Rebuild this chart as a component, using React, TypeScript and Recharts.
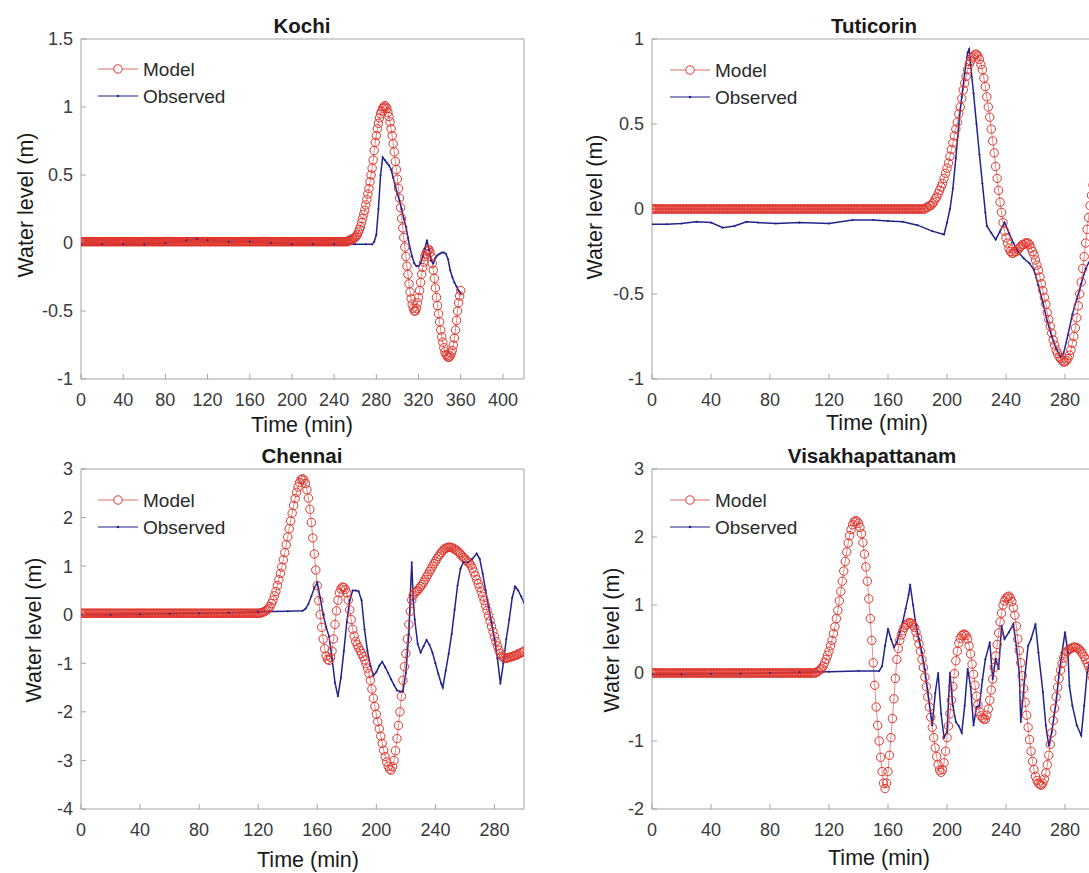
import React from "react";
import { LineChart, Line, XAxis, YAxis } from "recharts";

const FONT = "'Liberation Sans', Arial, Helvetica, sans-serif";

// model output is sampled every minute
const MODEL_STEP = 1;

const kochiModel = [
  0.01, 0.01, 0.01, 0.01, 0.01, 0.01, 0.01, 0.01, 0.01, 0.01, 0.01, 0.01, 0.01, 0.01, 0.01, 0.01, 0.01, 0.01, 0.01, 0.01,
  0.01, 0.01, 0.01, 0.01, 0.01, 0.01, 0.01, 0.01, 0.01, 0.01, 0.01, 0.01, 0.01, 0.01, 0.01, 0.01, 0.01, 0.01, 0.01, 0.01,
  0.01, 0.01, 0.01, 0.01, 0.01, 0.01, 0.01, 0.01, 0.01, 0.01, 0.01, 0.01, 0.01, 0.01, 0.01, 0.01, 0.01, 0.01, 0.01, 0.01,
  0.01, 0.01, 0.01, 0.01, 0.01, 0.01, 0.01, 0.01, 0.01, 0.01, 0.01, 0.01, 0.01, 0.01, 0.01, 0.01, 0.01, 0.01, 0.01, 0.01,
  0.01, 0.01, 0.01, 0.01, 0.01, 0.01, 0.01, 0.01, 0.01, 0.01, 0.01, 0.01, 0.01, 0.01, 0.01, 0.01, 0.01, 0.01, 0.01, 0.01,
  0.01, 0.01, 0.01, 0.01, 0.01, 0.01, 0.01, 0.01, 0.01, 0.01, 0.01, 0.01, 0.01, 0.01, 0.01, 0.01, 0.01, 0.01, 0.01, 0.01,
  0.01, 0.01, 0.01, 0.01, 0.01, 0.01, 0.01, 0.01, 0.01, 0.01, 0.01, 0.01, 0.01, 0.01, 0.01, 0.01, 0.01, 0.01, 0.01, 0.01,
  0.01, 0.01, 0.01, 0.01, 0.01, 0.01, 0.01, 0.01, 0.01, 0.01, 0.01, 0.01, 0.01, 0.01, 0.01, 0.01, 0.01, 0.01, 0.01, 0.01,
  0.01, 0.01, 0.01, 0.01, 0.01, 0.01, 0.01, 0.01, 0.01, 0.01, 0.01, 0.01, 0.01, 0.01, 0.01, 0.01, 0.01, 0.01, 0.01, 0.01,
  0.01, 0.01, 0.01, 0.01, 0.01, 0.01, 0.01, 0.01, 0.01, 0.01, 0.01, 0.01, 0.01, 0.01, 0.01, 0.01, 0.01, 0.01, 0.01, 0.01,
  0.01, 0.01, 0.01, 0.01, 0.01, 0.01, 0.01, 0.01, 0.01, 0.01, 0.01, 0.01, 0.01, 0.01, 0.01, 0.01, 0.01, 0.01, 0.01, 0.01,
  0.01, 0.01, 0.01, 0.01, 0.01, 0.01, 0.01, 0.01, 0.01, 0.01, 0.01, 0.01, 0.01, 0.01, 0.01, 0.01, 0.01, 0.01, 0.01, 0.01,
  0.01, 0.01, 0.01, 0.01, 0.01, 0.01, 0.01, 0.01, 0.01, 0.01, 0.01, 0.01,
  0.01, 0.01, 0.02, 0.02, 0.02, 0.03, 0.03, 0.04, 0.04, 0.05,
  0.06, 0.08, 0.1, 0.12, 0.15, 0.18, 0.21, 0.24, 0.28, 0.32,
  0.36, 0.4, 0.45, 0.5, 0.55, 0.61, 0.68, 0.74, 0.79, 0.84,
  0.88, 0.92, 0.95, 0.97, 0.99, 1.0, 1.01, 1.0, 0.99, 0.96,
  0.93, 0.89, 0.84, 0.79, 0.73, 0.67, 0.6, 0.54, 0.47, 0.4,
  0.33, 0.26, 0.18, 0.11, 0.04, -0.03, -0.1, -0.17, -0.23, -0.3,
  -0.36, -0.41, -0.45, -0.48, -0.5, -0.5, -0.48, -0.44, -0.4, -0.35,
  -0.29, -0.23, -0.18, -0.14, -0.1, -0.08, -0.06, -0.05, -0.05, -0.07,
  -0.1, -0.15, -0.2, -0.26, -0.33, -0.4, -0.46, -0.52, -0.58, -0.64,
  -0.69, -0.73, -0.77, -0.8, -0.82, -0.83, -0.84, -0.84, -0.83, -0.81,
  -0.79, -0.75, -0.7, -0.64, -0.57, -0.5, -0.44, -0.39, -0.35,
];
const kochiObsTime = [
  0, 20, 40, 60, 80, 100, 110, 120, 140, 160, 180, 200, 220, 240, 260, 270, 276, 278, 280, 282,
  284, 286, 288, 290, 292, 294, 296, 298, 300, 302, 304, 306, 308, 310, 312, 314, 316, 318, 320, 322,
  324, 326, 328, 330, 332, 334, 336, 338, 340, 342, 344, 346, 348, 350, 352, 354, 356, 358, 360,
];
const kochiObsLevel = [
  -0.01, -0.01, -0.01, -0.01, 0, 0.02, 0.03, 0.02, 0.01, 0.01, 0, -0.01, -0.01, -0.01, -0.01, -0.01, -0.01, 0.01, 0.06, 0.25,
  0.5, 0.63, 0.61, 0.59, 0.57, 0.54, 0.48, 0.42, 0.36, 0.31, 0.25, 0.18, 0.12, 0.04, -0.04, -0.1, -0.15, -0.17, -0.17, -0.15,
  -0.1, -0.04, 0.02, -0.05, -0.13, -0.15, -0.11, -0.09, -0.08, -0.07, -0.07, -0.08, -0.12, -0.2, -0.25, -0.29, -0.32, -0.35, -0.37,
];

const tutiModel = [
  0, 0, 0, 0, 0, 0, 0, 0, 0, 0, 0, 0, 0, 0, 0, 0, 0, 0, 0, 0,
  0, 0, 0, 0, 0, 0, 0, 0, 0, 0, 0, 0, 0, 0, 0, 0, 0, 0, 0, 0,
  0, 0, 0, 0, 0, 0, 0, 0, 0, 0, 0, 0, 0, 0, 0, 0, 0, 0, 0, 0,
  0, 0, 0, 0, 0, 0, 0, 0, 0, 0, 0, 0, 0, 0, 0, 0, 0, 0, 0, 0,
  0, 0, 0, 0, 0, 0, 0, 0, 0, 0, 0, 0, 0, 0, 0, 0, 0, 0, 0, 0,
  0, 0, 0, 0, 0, 0, 0, 0, 0, 0, 0, 0, 0, 0, 0, 0, 0, 0, 0, 0,
  0, 0, 0, 0, 0, 0, 0, 0, 0, 0, 0, 0, 0, 0, 0, 0, 0, 0, 0, 0,
  0, 0, 0, 0, 0, 0, 0, 0, 0, 0, 0, 0, 0, 0, 0, 0, 0, 0, 0, 0,
  0, 0, 0, 0, 0, 0, 0, 0, 0, 0, 0, 0, 0, 0, 0, 0, 0, 0, 0, 0,
  0, 0, 0, 0, 0, 0,
  0.01, 0.01, 0.02, 0.02, 0.03, 0.04, 0.06, 0.07, 0.09, 0.11,
  0.13, 0.15, 0.18, 0.21, 0.24, 0.27, 0.31, 0.35, 0.39, 0.43,
  0.47, 0.51, 0.56, 0.6, 0.65, 0.7, 0.74, 0.78, 0.82, 0.85,
  0.87, 0.89, 0.9, 0.91, 0.91, 0.9, 0.88, 0.85, 0.82, 0.77,
  0.72, 0.66, 0.6, 0.54, 0.47, 0.4, 0.33, 0.25, 0.18, 0.11,
  0.04, -0.02, -0.08, -0.13, -0.17, -0.2, -0.23, -0.25, -0.26, -0.26,
  -0.25, -0.25, -0.24, -0.23, -0.22, -0.21, -0.21, -0.2, -0.2, -0.2,
  -0.21, -0.23, -0.25, -0.27, -0.3, -0.33, -0.36, -0.4, -0.44, -0.48,
  -0.52, -0.56, -0.61, -0.65, -0.69, -0.73, -0.77, -0.8, -0.83, -0.85,
  -0.87, -0.88, -0.89, -0.9, -0.9, -0.89, -0.88, -0.86, -0.83, -0.79,
  -0.75, -0.7, -0.64, -0.57, -0.5, -0.43, -0.35, -0.28, -0.2, -0.12,
  -0.05, 0.02, 0.08, 0.14, 0.2,
];
const tutiObsTime = [
  0, 10, 20, 30, 40, 48, 56, 64, 72, 84, 100, 120, 136, 150, 160, 170, 180, 190, 198, 200,
  202, 204, 206, 208, 210, 212, 214, 215, 216, 218, 220, 222, 224, 226, 227, 230, 233, 236, 239, 242,
  245, 248, 252, 256, 259, 262, 265, 268, 271, 274, 277, 279, 282, 285, 288, 291, 294, 297, 300,
];
const tutiObsLevel = [
  -0.09, -0.09, -0.085, -0.075, -0.08, -0.11, -0.1, -0.075, -0.08, -0.085, -0.08, -0.085, -0.065, -0.065, -0.07, -0.075, -0.095, -0.13, -0.15, -0.08,
  0, 0.12, 0.3, 0.5, 0.66, 0.8, 0.92, 0.94, 0.85, 0.68, 0.5, 0.32, 0.15, -0.02, -0.1, -0.14, -0.18, -0.13, -0.08, -0.14,
  -0.2, -0.25, -0.29, -0.32, -0.36, -0.45, -0.55, -0.66, -0.75, -0.82, -0.87, -0.85, -0.74, -0.62, -0.53, -0.44, -0.35, -0.3, -0.22,
];

const chennaiModel = [
  0.03, 0.03, 0.03, 0.03, 0.03, 0.03, 0.03, 0.03, 0.03, 0.03, 0.03, 0.03, 0.03, 0.03, 0.03, 0.03, 0.03, 0.03, 0.03, 0.03,
  0.03, 0.03, 0.03, 0.03, 0.03, 0.03, 0.03, 0.03, 0.03, 0.03, 0.03, 0.03, 0.03, 0.03, 0.03, 0.03, 0.03, 0.03, 0.03, 0.03,
  0.03, 0.03, 0.03, 0.03, 0.03, 0.03, 0.03, 0.03, 0.03, 0.03, 0.03, 0.03, 0.03, 0.03, 0.03, 0.03, 0.03, 0.03, 0.03, 0.03,
  0.03, 0.03, 0.03, 0.03, 0.03, 0.03, 0.03, 0.03, 0.03, 0.03, 0.03, 0.03, 0.03, 0.03, 0.03, 0.03, 0.03, 0.03, 0.03, 0.03,
  0.03, 0.03, 0.03, 0.03, 0.03, 0.03, 0.03, 0.03, 0.03, 0.03, 0.03, 0.03, 0.03, 0.03, 0.03, 0.03, 0.03, 0.03, 0.03, 0.03,
  0.03, 0.03, 0.03, 0.03, 0.03, 0.03, 0.03, 0.03, 0.03, 0.03, 0.03, 0.03, 0.03, 0.03, 0.03, 0.03, 0.03, 0.03, 0.03, 0.03,
  0.03, 0.03,
  0.04, 0.05, 0.06, 0.08, 0.1, 0.13, 0.17, 0.23, 0.3, 0.39,
  0.48, 0.6, 0.72, 0.85, 0.98, 1.13, 1.28, 1.44, 1.6, 1.77,
  1.93, 2.09, 2.25, 2.39, 2.52, 2.63, 2.72, 2.78, 2.8, 2.77,
  2.7, 2.57, 2.4, 2.17, 1.9, 1.58, 1.25, 0.92, 0.6, 0.29,
  0.0, -0.26, -0.5, -0.7, -0.85, -0.92, -0.94, -0.88, -0.75, -0.5,
  -0.2, 0.08, 0.3, 0.45, 0.53, 0.57, 0.56, 0.52, 0.45, 0.3,
  0.1, -0.1, -0.3, -0.44, -0.55, -0.62, -0.68, -0.74, -0.8, -0.86,
  -0.93, -1.01, -1.1, -1.21, -1.35, -1.53, -1.72, -1.89, -2.05, -2.2,
  -2.35, -2.5, -2.65, -2.79, -2.92, -3.03, -3.12, -3.18, -3.2, -3.13,
  -3.0, -2.8, -2.55, -2.28, -2.0, -1.68, -1.35, -1.07, -0.8, -0.5,
  -0.2, 0.07, 0.3, 0.4, 0.45, 0.48, 0.5, 0.54, 0.58, 0.62,
  0.67, 0.72, 0.78, 0.83, 0.89, 0.94, 1.0, 1.05, 1.1, 1.15,
  1.2, 1.24, 1.28, 1.32, 1.35, 1.37, 1.38, 1.39, 1.39, 1.38,
  1.37, 1.35, 1.33, 1.31, 1.28, 1.25, 1.21, 1.18, 1.15, 1.12,
  1.09, 1.06, 1.02, 0.96, 0.88, 0.8, 0.72, 0.64, 0.56, 0.47,
  0.38, 0.29, 0.19, 0.09, -0.02, -0.13, -0.24, -0.35, -0.45, -0.55,
  -0.64, -0.73, -0.8, -0.85, -0.88, -0.89, -0.9, -0.89, -0.88, -0.87,
  -0.86, -0.85, -0.84, -0.83, -0.81, -0.8, -0.78, -0.77, -0.75,
];
const chennaiObsTime = [
  0, 20, 40, 60, 80, 100, 120, 140, 150, 152, 154, 156, 158, 160, 162, 164, 166, 168, 170, 172,
  174, 176, 178, 180, 182, 184, 186, 188, 190, 192, 194, 196, 198, 200, 202, 204, 206, 208, 210, 212,
  214, 216, 218, 220, 222, 223, 224, 225, 226, 228, 230, 232, 234, 236, 238, 240, 242, 244, 245, 247,
  249, 251, 253, 255, 257, 259, 262, 265, 268, 270, 272, 274, 276, 278, 280, 282, 284, 286, 288, 290,
  292, 294, 296, 298, 300,
];
const chennaiObsLevel = [
  0, 0, 0.01, 0.02, 0.03, 0.04, 0.06, 0.07, 0.08, 0.12, 0.22, 0.38, 0.55, 0.66, 0.35, 0, -0.25, -0.45, -0.9, -1.4,
  -1.68, -1.3, -0.75, -0.15, 0.3, 0.5, 0.5, 0.48, 0.3, -0.3, -0.75, -1.05, -1.25, -1.18, -1.05, -0.97, -1.08, -1.2, -1.33, -1.45,
  -1.56, -1.58, -1.58, -1.2, -0.4, 0.4, 1.08, 0.3, -0.1, -0.6, -0.78, -0.65, -0.52, -0.62, -0.78, -1.0, -1.22, -1.42, -1.5, -1.15,
  -0.8, -0.4, 0.1, 0.6, 0.95, 1.08, 1.08, 1.15, 1.26, 1.15, 0.85, 0.5, 0.15, -0.15, -0.5, -0.9, -1.42, -1.0, -0.5, -0.1,
  0.35, 0.58, 0.5, 0.38, 0.25,
];

const visakModel = [
  0, 0, 0, 0, 0, 0, 0, 0, 0, 0, 0, 0, 0, 0, 0, 0, 0, 0, 0, 0,
  0, 0, 0, 0, 0, 0, 0, 0, 0, 0, 0, 0, 0, 0, 0, 0, 0, 0, 0, 0,
  0, 0, 0, 0, 0, 0, 0, 0, 0, 0, 0, 0, 0, 0, 0, 0, 0, 0, 0, 0,
  0, 0, 0, 0, 0, 0, 0, 0, 0, 0, 0, 0, 0, 0, 0, 0, 0, 0, 0, 0,
  0, 0, 0, 0, 0, 0, 0, 0, 0, 0, 0, 0, 0, 0, 0, 0, 0, 0, 0, 0,
  0, 0, 0, 0, 0, 0, 0, 0, 0, 0, 0, 0,
  0.02, 0.03, 0.05, 0.07, 0.1, 0.15, 0.2, 0.26, 0.32, 0.4,
  0.48, 0.58, 0.68, 0.8, 0.92, 1.06, 1.2, 1.35, 1.5, 1.64,
  1.78, 1.91, 2.02, 2.11, 2.18, 2.22, 2.24, 2.23, 2.2, 2.14,
  2.05, 1.92, 1.75, 1.56, 1.35, 1.09, 0.8, 0.48, 0.15, -0.18,
  -0.5, -0.77, -1.0, -1.24, -1.45, -1.62, -1.7, -1.62, -1.45, -1.21,
  -0.95, -0.67, -0.38, -0.08, 0.2, 0.36, 0.48, 0.56, 0.62, 0.67,
  0.7, 0.72, 0.74, 0.74, 0.73, 0.7, 0.67, 0.6, 0.52, 0.43,
  0.32, 0.2, 0.08, -0.06, -0.2, -0.35, -0.5, -0.65, -0.8, -0.95,
  -1.1, -1.23, -1.35, -1.43, -1.46, -1.42, -1.32, -1.15, -0.95, -0.78,
  -0.6, -0.4, -0.2, -0.01, 0.18, 0.32, 0.44, 0.51, 0.55, 0.57,
  0.57, 0.55, 0.5, 0.4, 0.28, 0.13, -0.02, -0.18, -0.34, -0.47,
  -0.57, -0.63, -0.66, -0.68, -0.68, -0.62, -0.53, -0.4, -0.25, -0.09,
  0.08, 0.25, 0.42, 0.59, 0.75, 0.88, 1.0, 1.06, 1.1, 1.12,
  1.13, 1.1, 1.05, 0.96, 0.85, 0.69, 0.5, 0.33, 0.15, -0.04,
  -0.23, -0.43, -0.62, -0.8, -0.98, -1.15, -1.3, -1.42, -1.52, -1.58,
  -1.62, -1.64, -1.65, -1.62, -1.56, -1.47, -1.35, -1.21, -1.05, -0.88,
  -0.7, -0.52, -0.35, -0.21, -0.08, 0.04, 0.14, 0.22, 0.28, 0.31,
  0.33, 0.35, 0.36, 0.37, 0.38, 0.38, 0.37, 0.36, 0.34, 0.31,
  0.28, 0.24, 0.2, 0.15, 0.1, 0.04, -0.02, -0.08, -0.15,
];
const visakObsTime = [
  0, 20, 40, 60, 80, 100, 120, 140, 154, 156, 158, 160, 162, 164, 166, 168, 170, 172, 174, 175,
  177, 179, 181, 183, 185, 187, 189, 190, 192, 194, 196, 198, 200, 202, 204, 206, 208, 210, 212, 214,
  216, 218, 220, 222, 224, 226, 229, 231, 233, 235, 237, 239, 242, 245, 247, 249, 250, 253, 255, 257,
  260, 262, 265, 267, 269, 271, 274, 276, 278, 280, 282, 283, 285, 288, 291, 293, 295, 298, 300,
];
const visakObsLevel = [
  -0.02, -0.02, -0.01, -0.01, 0, 0.01, 0.02, 0.03, 0.03, 0.1, 0.4, 0.65, 0.5, 0.38, 0.45, 0.6, 0.75, 0.95, 1.15, 1.3,
  1.0, 0.7, 0.5, 0.3, 0.05, -0.28, -0.6, -0.77, -0.3, 0, -0.6, -0.95, -0.87, 0, -0.48, -0.72, -0.78, -0.88, -0.48, 0.06,
  -0.2, -0.77, -0.5, -0.48, -0.1, 0.2, 0.45, -0.09, 0.21, 0.06, 0.69, 0.5, 0.6, 0.72, 0.4, 0, -0.72, 0, 0.4, 0.5,
  0.72, 0.3, -0.28, -0.77, -1.07, -0.87, -0.43, 0, 0.3, 0.6, 0.3, -0.19, -0.48, -0.77, -0.92, -0.48, 0, 0.3, 0.4,
];

const kochiXTicks = [0, 40, 80, 120, 160, 200, 240, 280, 320, 360, 400];
const shortXTicks = [0, 40, 80, 120, 160, 200, 240, 280];
const kochiYTicks = [-1, -0.5, 0, 0.5, 1, 1.5];
const tutiYTicks = [-1, -0.5, 0, 0.5, 1];
const chennaiYTicks = [-4, -3, -2, -1, 0, 1, 2, 3];
const visakYTicks = [-2, -1, 0, 1, 2, 3];

type Pt = { t: number; v: number };

const toModel = (vals: number[]): Pt[] => vals.map((v, i) => ({ t: i * MODEL_STEP, v }));
const toObs = (ts: number[], vs: number[]): Pt[] => ts.map((t, i) => ({ t, v: vs[i] }));

const MODEL_RED = "#e0352c";
const MODEL_LINE = "#da6f6a";
const OBS_BLUE = "#23238c";
const AXIS = "#a3a3a3";
const TICK_TEXT = { fontSize: 18, fill: "#3a3a3a", fontFamily: FONT };

interface PanelProps {
  left: number;
  top: number;
  width: number;
  height: number;
  marginTop: number;
  marginRight: number;
  yAxisWidth: number;
  xAxisHeight: number;
  xDomain: [number, number];
  xTicks: number[];
  yDomain: [number, number];
  yTicks: number[];
  model: Pt[];
  observed: Pt[];
}

// marginTop / marginRight are measured to the plot box; the 1px top and
// right axes (box edges with inward ticks) sit inside that space
function Panel(p: PanelProps) {
  return (
    <div style={{ position: "absolute", left: p.left, top: p.top }}>
      <LineChart
        width={p.width}
        height={p.height}
        margin={{ top: p.marginTop - 1, right: p.marginRight - 1, bottom: 0, left: 0 }}
      >
        <XAxis
          type="number"
          dataKey="t"
          domain={p.xDomain}
          ticks={p.xTicks}
          interval={0}
          allowDataOverflow
          height={p.xAxisHeight}
          tickSize={-5}
          tickMargin={19}
          stroke={AXIS}
          tick={TICK_TEXT}
        />
        <XAxis
          xAxisId="top"
          orientation="top"
          type="number"
          domain={p.xDomain}
          ticks={p.xTicks}
          interval={0}
          allowDataOverflow
          height={1}
          tickSize={-5}
          tick={false}
          stroke={AXIS}
        />
        <YAxis
          type="number"
          domain={p.yDomain}
          ticks={p.yTicks}
          interval={0}
          allowDataOverflow
          width={p.yAxisWidth}
          tickSize={-5}
          tickMargin={13}
          stroke={AXIS}
          tick={TICK_TEXT}
        />
        <YAxis
          yAxisId="right"
          orientation="right"
          type="number"
          domain={p.yDomain}
          ticks={p.yTicks}
          interval={0}
          allowDataOverflow
          width={1}
          tickSize={-5}
          tick={false}
          stroke={AXIS}
        />
        <Line
          data={p.model}
          dataKey="v"
          name="Model"
          type="linear"
          stroke={MODEL_LINE}
          strokeWidth={0.8}
          dot={{ r: 4.2, stroke: MODEL_RED, strokeWidth: 1, fill: "none" }}
          isAnimationActive={false}
        />
        <Line
          data={p.observed}
          dataKey="v"
          name="Observed"
          type="linear"
          stroke={OBS_BLUE}
          strokeWidth={1.5}
          dot={{ r: 0.8, stroke: OBS_BLUE, strokeWidth: 0.5, fill: OBS_BLUE }}
          isAnimationActive={false}
        />
      </LineChart>
    </div>
  );
}

function LegendBox({ x, y }: { x: number; y: number }) {
  return (
    <g>
      <line x1={x} y1={y} x2={x + 40} y2={y} stroke={MODEL_LINE} strokeWidth={1} />
      <circle cx={x + 20} cy={y} r={4.2} stroke={MODEL_RED} strokeWidth={1} fill="#fff" />
      <text x={x + 45} y={y} dominantBaseline="central" fontSize={19} fill="#2a2a2a">
        Model
      </text>
      <line x1={x} y1={y + 27} x2={x + 40} y2={y + 27} stroke={OBS_BLUE} strokeWidth={1.2} />
      <circle cx={x + 20} cy={y + 27} r={1.3} fill={OBS_BLUE} />
      <text x={x + 45} y={y + 27} dominantBaseline="central" fontSize={19} fill="#2a2a2a">
        Observed
      </text>
    </g>
  );
}

function Title({ x, y, children }: { x: number; y: number; children: string }) {
  return (
    <text x={x} y={y} textAnchor="middle" dominantBaseline="central" fontSize={20.5} fontWeight="bold" fill="#1a1a1a">
      {children}
    </text>
  );
}

function XLabel({ x, y }: { x: number; y: number }) {
  return (
    <text x={x} y={y} textAnchor="middle" dominantBaseline="central" fontSize={21.5} fill="#1a1a1a">
      Time (min)
    </text>
  );
}

function YLabel({ x, y }: { x: number; y: number }) {
  return (
    <text
      x={x}
      y={y}
      textAnchor="middle"
      dominantBaseline="central"
      fontSize={21.5}
      fill="#1a1a1a"
      transform={`rotate(-90 ${x} ${y})`}
    >
      Water level (m)
    </text>
  );
}

export default function App() {
  return (
    <div
      style={{
        position: "absolute",
        left: 0,
        top: 0,
        width: 1089,
        height: 873,
        overflow: "hidden",
        background: "#fff",
        fontFamily: FONT,
      }}
    >
      <Panel
        left={0}
        top={0}
        width={560}
        height={440}
        marginTop={39}
        marginRight={36}
        yAxisWidth={81}
        xAxisHeight={61}
        xDomain={[0, 420]}
        xTicks={kochiXTicks}
        yDomain={[-1, 1.5]}
        yTicks={kochiYTicks}
        model={toModel(kochiModel)}
        observed={toObs(kochiObsTime, kochiObsLevel)}
      />
      <Panel
        left={560}
        top={0}
        width={540}
        height={440}
        marginTop={39}
        marginRight={5.5}
        yAxisWidth={92}
        xAxisHeight={61}
        xDomain={[0, 300]}
        xTicks={shortXTicks}
        yDomain={[-1, 1]}
        yTicks={tutiYTicks}
        model={toModel(tutiModel)}
        observed={toObs(tutiObsTime, tutiObsLevel)}
      />
      <Panel
        left={0}
        top={440}
        width={560}
        height={440}
        marginTop={29}
        marginRight={36}
        yAxisWidth={81}
        xAxisHeight={71}
        xDomain={[0, 300]}
        xTicks={shortXTicks}
        yDomain={[-4, 3]}
        yTicks={chennaiYTicks}
        model={toModel(chennaiModel)}
        observed={toObs(chennaiObsTime, chennaiObsLevel)}
      />
      <Panel
        left={560}
        top={440}
        width={540}
        height={440}
        marginTop={29}
        marginRight={5.5}
        yAxisWidth={92}
        xAxisHeight={71}
        xDomain={[0, 300]}
        xTicks={shortXTicks}
        yDomain={[-2, 3]}
        yTicks={visakYTicks}
        model={toModel(visakModel)}
        observed={toObs(visakObsTime, visakObsLevel)}
      />
      <svg
        width={1089}
        height={873}
        style={{ position: "absolute", left: 0, top: 0, pointerEvents: "none", fontFamily: FONT }}
      >
        <Title x={302} y={25}>Kochi</Title>
        <Title x={874} y={25}>Tuticorin</Title>
        <Title x={302} y={455}>Chennai</Title>
        <Title x={872} y={455}>Visakhapattanam</Title>

        <XLabel x={302} y={425} />
        <XLabel x={877} y={423} />
        <XLabel x={308} y={860} />
        <XLabel x={879} y={858} />

        <YLabel x={26} y={205} />
        <YLabel x={595} y={207} />
        <YLabel x={34} y={630} />
        <YLabel x={612} y={640} />

        <LegendBox x={98} y={69} />
        <LegendBox x={670} y={70} />
        <LegendBox x={98} y={500} />
        <LegendBox x={670} y={500} />
      </svg>
    </div>
  );
}
